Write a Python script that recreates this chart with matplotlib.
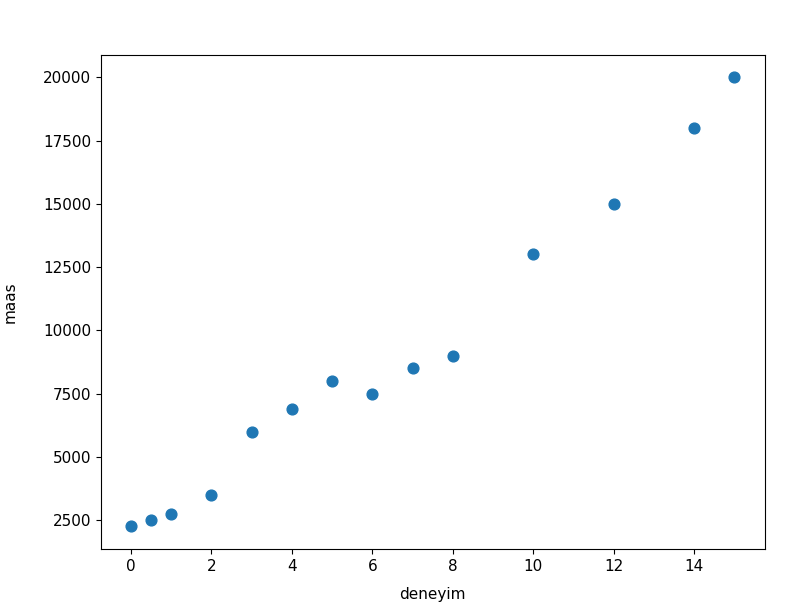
import matplotlib.pyplot as plt

deneyim = [0, 0.5, 1, 2, 3, 4, 5, 6, 7, 8, 10, 12, 14, 15]
maas = [2250, 2500, 2750, 3500, 6000, 6900, 8000, 7500, 8500, 9000, 13000, 15000, 18000, 20000]

fig = plt.figure(figsize=(7.99, 6.16), dpi=100)
fig.subplots_adjust(left=0.126, right=0.957, top=0.911, bottom=0.109)
ax = fig.add_subplot(111)
ax.scatter(deneyim, maas, s=60)
ax.set_xlabel("deneyim", fontsize=11, labelpad=10)
ax.set_ylabel("maas", fontsize=11, labelpad=18)
ax.tick_params(labelsize=11)
fig.savefig("out.png")
